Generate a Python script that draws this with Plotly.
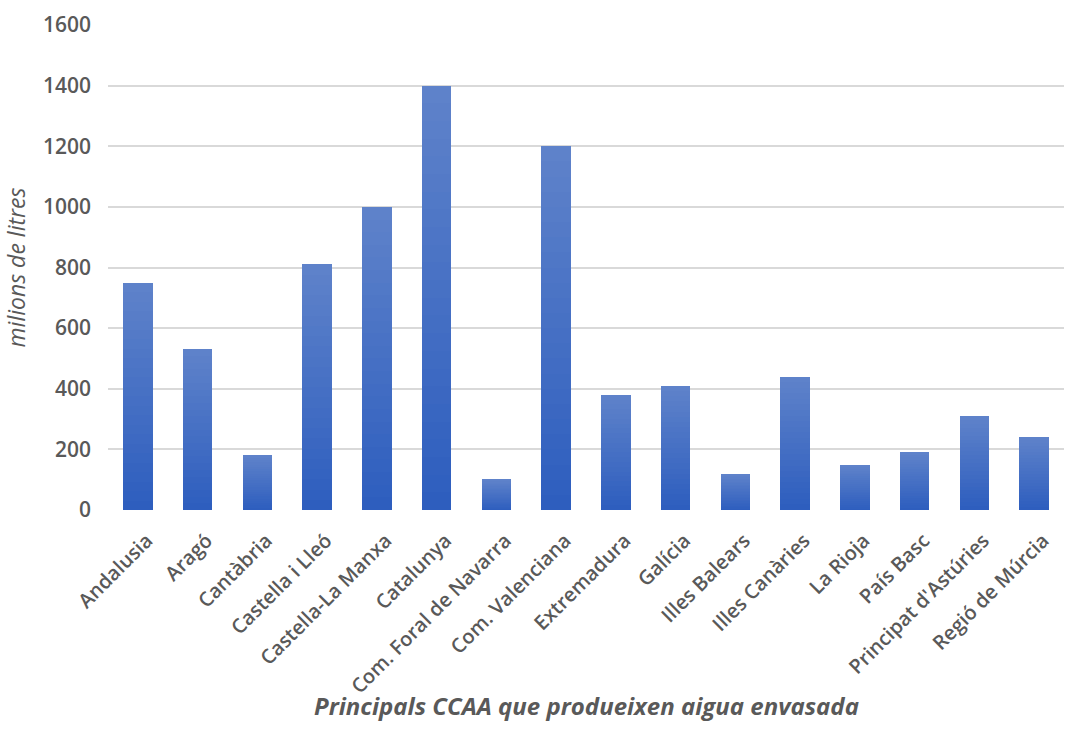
import plotly.graph_objects as go

# Bottled water production by autonomous community (millions of litres)
regions = [
    "Andalusia", "Aragó", "Cantàbria", "Castella i Lleó", "Castella-La Manxa",
    "Catalunya", "Com. Foral de Navarra", "Com. Valenciana", "Extremadura",
    "Galícia", "Illes Balears", "Illes Canàries", "La Rioja", "País Basc",
    "Principat d'Astúries", "Regió de Múrcia",
]
litres = [750, 530, 180, 810, 1000, 1400, 100, 1200, 380, 410, 120, 440, 150, 190, 310, 240]
y_ticks = [0, 200, 400, 600, 800, 1000, 1200, 1400, 1600]

# Vertical gradient per bar: each bar is split into equal stacked slices
# coloured from a darker base to a lighter top.
n_slices = 24
bottom_rgb = (46, 94, 190)
top_rgb = (94, 130, 202)

fig = go.Figure()
for i in range(n_slices):
    t = i / (n_slices - 1)
    r = round(bottom_rgb[0] + (top_rgb[0] - bottom_rgb[0]) * t)
    g = round(bottom_rgb[1] + (top_rgb[1] - bottom_rgb[1]) * t)
    b = round(bottom_rgb[2] + (top_rgb[2] - bottom_rgb[2]) * t)
    fig.add_trace(go.Bar(
        x=regions,
        y=[v / n_slices for v in litres],
        marker=dict(color=f"rgb({r},{g},{b})", line=dict(width=0)),
        showlegend=False,
        hoverinfo="skip" if i < n_slices - 1 else None,
        customdata=litres,
        hovertemplate="%{x}: %{customdata}<extra></extra>",
    ))

fig.update_layout(
    width=1073,
    height=747,
    barmode="stack",
    bargap=0.51,
    plot_bgcolor="white",
    paper_bgcolor="white",
    margin=dict(l=108, r=9, t=25, b=237),
    font=dict(family="Open Sans", color="#595959"),
    xaxis=dict(
        tickangle=-45,
        tickfont=dict(size=20, weight=600, color="#595959"),
        showgrid=False,
        showline=False,
        ticks="",
        ticklabelstandoff=14,
        ticklabelshift=9,
        automargin=False,
    ),
    yaxis=dict(
        range=[0, 1600],
        tickvals=y_ticks,
        tickfont=dict(size=21, weight=600, color="#595959"),
        gridcolor="#d9d9d9",
        gridwidth=1.5,
        zeroline=False,
        showline=False,
        ticks="",
        ticklabelstandoff=16,
        automargin=False,
        title=dict(
            text="milions de litres",
            font=dict(size=23, style="italic", color="#595959"),
            standoff=12,
        ),
    ),
    annotations=[dict(
        text="Principals CCAA que produeixen aigua envasada",
        xref="paper", yref="paper",
        x=0.5, y=-0.404,
        xanchor="center", yanchor="middle",
        showarrow=False,
        font=dict(size=24, style="italic", weight=700, color="#595959"),
    )],
)

fig.write_html("out.html")
